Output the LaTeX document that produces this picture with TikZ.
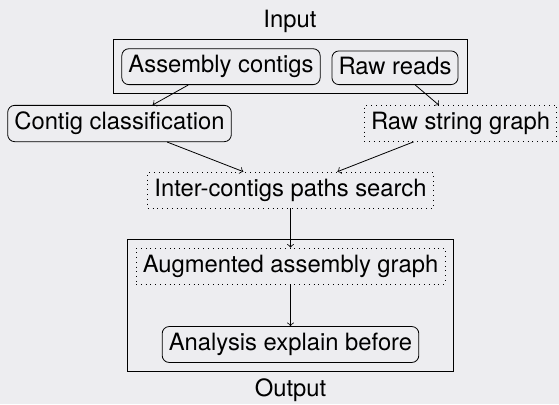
\documentclass[tikz,border=0pt]{standalone}
\usepackage{fontspec}
\setmainfont{TeX Gyre Heros}
\usetikzlibrary{fit}
\definecolor{bgcolor}{RGB}{237,237,240}

\begin{document}
\begin{tikzpicture}[x=0.5pt, y=-0.5pt, >=to,
    every node/.style={font=\fontsize{11.9}{14}\selectfont},
    solidbox/.style={draw, rounded corners=3.5pt},
    dotbox/.style={draw, dotted},
    groupbox/.style={draw, inner sep=4.25pt}]
    % background
    \fill[bgcolor] (0,0) rectangle (559,404);
    \useasboundingbox (0,0) rectangle (559,404);
    % input
    \node[solidbox, anchor=south] (asm) at (221,85) {Assembly contigs};
    \node[solidbox, anchor=south, text depth=1.5pt] (raw) at (395,85) {Raw reads};
    \node[groupbox, fit=(asm)(raw), label=above:Input] (input) {};
    % processing
    \node[solidbox] (cls) at (119.5,123.5) {Contig classification};
    \node[dotbox] (rsg) at (460.5,123.5) {Raw string graph};
    \node[dotbox] (inter) at (290.5,190) {Inter-contigs paths search};
    % output
    \node[dotbox] (aug) at (290.5,266) {Augmented assembly graph};
    \node[solidbox] (ana) at (290.5,344.5) {Analysis explain before};
    \node[groupbox, fit=(aug)(ana), label=below:Output] (output) {};
    % connectors
    \draw[->] (asm) -- (cls);
    \draw[->] (raw) -- (rsg);
    \draw[->] (cls) -- (inter);
    \draw[->] (rsg) -- (inter);
    \draw[->] (inter) -- (aug);
    \draw[->] (aug) -- (ana);
\end{tikzpicture}
\end{document}
